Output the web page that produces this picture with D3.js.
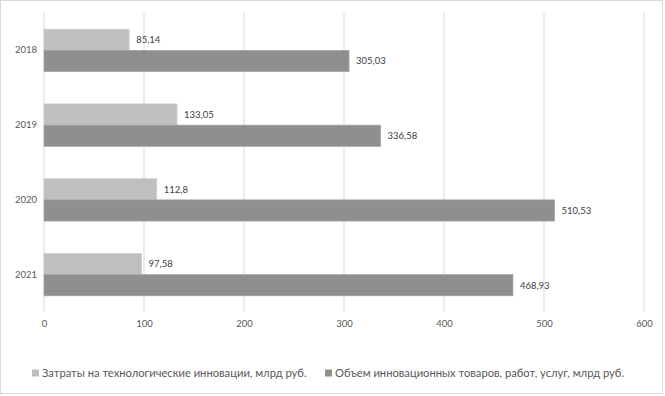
<!DOCTYPE html>
<html><head><meta charset="utf-8">
<script src="https://cdn.jsdelivr.net/npm/d3@7"></script>
<style>body{margin:0;background:#fff}svg{display:block;font-family:Lato,'Open Sans',sans-serif}</style>
</head><body><svg id="c" width="665" height="396"></svg>
<script>
const categories = ["2018", "2019", "2020", "2021"];
const seriesNames = ["Затраты на технологические инновации, млрд руб.", "Объем инновационных товаров, работ, услуг, млрд руб."];
const costs = [85.14, 133.05, 112.8, 97.58];
const volume = [305.03, 336.58, 510.53, 468.93];
const xTicks = [0, 100, 200, 300, 400, 500, 600];
const colors = ["#bfbfbf", "#8f8f8f"];

const svg = d3.select("#c");
svg.append("rect").attr("x",0.5).attr("y",0.5).attr("width",662).attr("height",393)
  .attr("fill","#fff").attr("stroke","#d9d9d9");

const x = d3.scaleLinear().domain([0,600]).range([44,644]);
const y0 = d3.scaleBand().domain(categories).range([13,312]).paddingInner(0.433).paddingOuter(0.2165);
const y1 = d3.scaleBand().domain([0,1]).range([0,y0.bandwidth()]);

// gridlines
svg.append("g").selectAll("line").data(xTicks).join("line")
  .attr("x1",d=>x(d)).attr("x2",d=>x(d)).attr("y1",13).attr("y2",312)
  .attr("stroke","#d9d9d9").attr("stroke-width",1);

// x axis labels
const xa = svg.append("g").attr("transform","translate(0,312)")
  .call(d3.axisBottom(x).tickValues(xTicks).tickSize(0).tickPadding(8));
xa.select(".domain").remove();
xa.selectAll("text").attr("fill","#595959").attr("font-size",9.5).attr("font-family","Lato,sans-serif");

// y axis labels
const ya = svg.append("g").attr("transform","translate(44,0)")
  .call(d3.axisLeft(y0).tickSize(0).tickPadding(7));
ya.select(".domain").remove();
ya.selectAll("text").attr("fill","#595959").attr("font-size",9.5).attr("font-family","Lato,sans-serif");

const data = categories.map((c,i)=>({cat:c, vals:[costs[i], volume[i]]}));
const groups = svg.append("g").selectAll("g").data(data).join("g")
  .attr("transform",d=>`translate(0,${y0(d.cat)})`);
groups.selectAll("rect").data(d=>d.vals.map((v,k)=>({v,k}))).join("rect")
  .attr("x",x(0)).attr("y",d=>y1(d.k)).attr("width",d=>x(d.v)-x(0)).attr("height",y1.bandwidth())
  .attr("fill",d=>colors[d.k]).attr("stroke",d=>d.k?"#a3a3a3":"#cfcfcf").attr("stroke-width",0.7);
groups.selectAll("text").data(d=>d.vals.map((v,k)=>({v,k}))).join("text")
  .attr("x",d=>x(d.v)+7).attr("y",d=>y1(d.k)+y1.bandwidth()/2).attr("dy","0.35em")
  .attr("font-size",9.5).attr("fill","#404040")
  .text(d=>String(d.v).replace(".",","));

// legend
const legX = [32, 325];
const leg = svg.append("g").selectAll("g").data(seriesNames).join("g")
  .attr("transform",(d,i)=>`translate(${legX[i]},373)`);
leg.append("rect").attr("x",0).attr("y",-3.5).attr("width",7).attr("height",7).attr("fill",(d,i)=>colors[i]);
leg.append("text").attr("x",10).attr("y",0).attr("dy","0.35em").attr("font-size",11.2).attr("fill","#595959").text(d=>d);
</script></body></html>
